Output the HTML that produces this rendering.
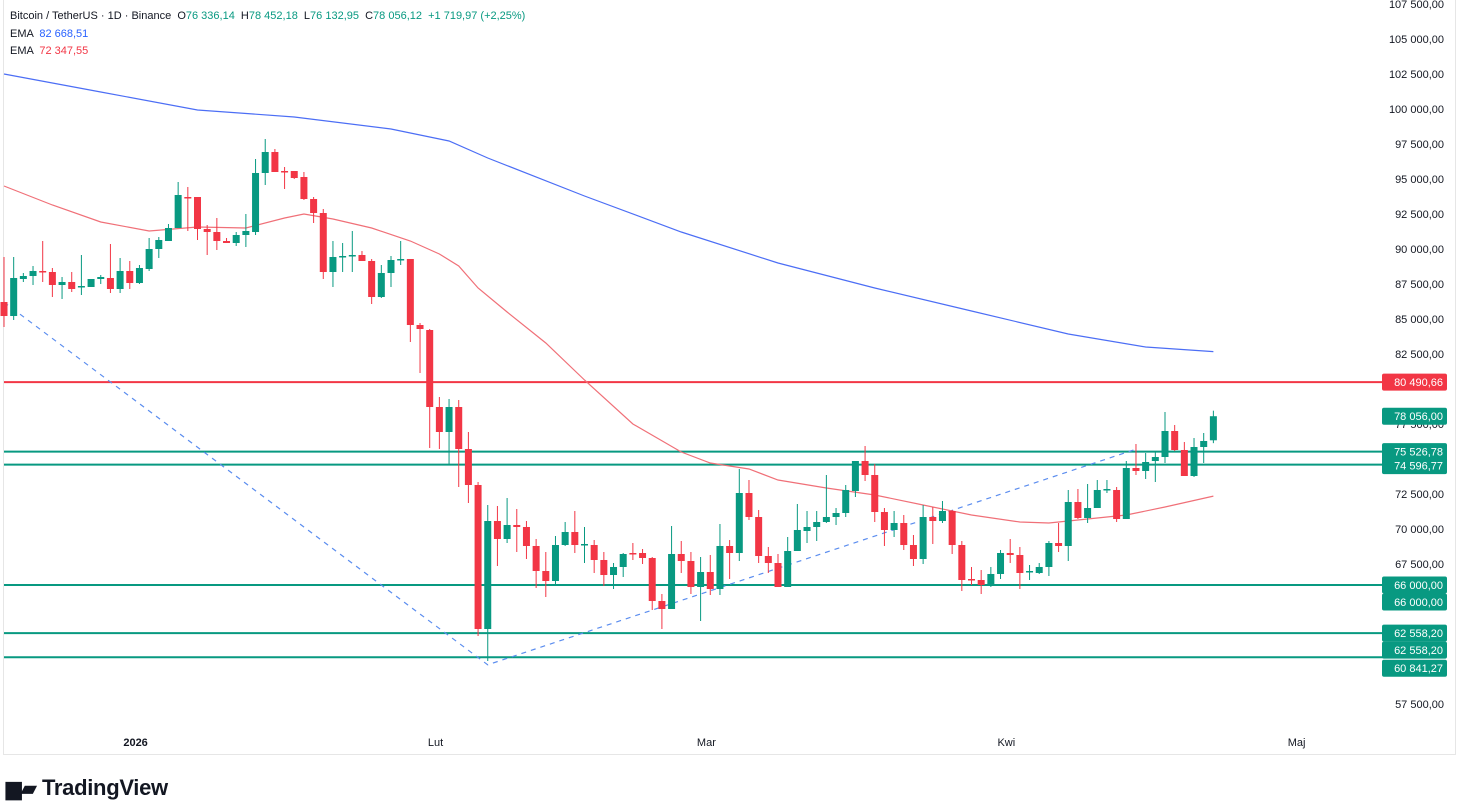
<!DOCTYPE html>
<html><head><meta charset="utf-8"><style>
body{margin:0;background:#fff;width:1461px;height:811px;overflow:hidden;font-family:"Liberation Sans",sans-serif}
#frame{position:absolute;left:3px;top:-1px;width:1453px;height:756px;border:1px solid #e6e6e6;box-sizing:border-box}
.hdr{position:absolute;left:10px;font-size:11px;color:#131722;white-space:nowrap}
.g{color:#089981}
#logo{position:absolute;left:6px;top:775px;font-size:22px;font-weight:bold;color:#131722;letter-spacing:-0.3px}
</style></head><body>
<div id="frame"></div>
<svg id="chart" width="1461" height="811" style="position:absolute;left:0;top:0"></svg>
<div class="hdr" style="top:10px">Bitcoin / TetherUS · 1D · Binance &nbsp;O<span class="g">76 336,14</span> &nbsp;H<span class="g">78 452,18</span> &nbsp;L<span class="g">76 132,95</span> &nbsp;C<span class="g">78 056,12</span> &nbsp;<span class="g">+1 719,97 (+2,25%)</span></div>
<div class="hdr" style="top:28px">EMA &nbsp;<span style="color:#2962ff">82 668,51</span></div>
<div class="hdr" style="top:45px">EMA &nbsp;<span style="color:#f23645">72 347,55</span></div>
<div id="logo"><span style="font-size:20px">▆▰</span> TradingView</div>
<script>
const opens=[86214,85214,87857,88071,88429,88357,87429,87643,87286,87286,87857,87929,87143,88429,87571,88571,90000,90571,91500,93714,93714,91429,91214,90571,90429,91000,91214,95429,96929,95571,95571,95143,93571,92571,88357,89429,89500,89571,89143,86571,88286,89214,89286,84571,84214,78714,76929,78714,75714,73143,62857,70571,69286,70286,70143,68786,67000,66286,68857,69786,68857,68857,67786,66714,67286,68286,68286,67929,64857,64286,68214,67714,65857,66929,65714,68786,68286,72571,70857,68071,67571,65857,68429,69857,70143,70500,70857,71143,72714,74857,73857,71214,69929,70429,68857,67857,70857,70571,71286,68857,66429,66357,66000,66786,68286,68143,66929,66857,67286,69000,68786,71929,70786,71500,72786,72786,70714,74357,74143,74857,75143,77000,75643,73786,75857,76336];
const highs=[89429,89429,88286,88786,90571,88643,88000,88357,89571,87857,88143,90357,89357,89143,88857,90786,90857,91786,94786,94429,93714,91714,92214,90786,91214,92500,96429,97857,97143,95857,95571,95500,93714,92857,90571,90429,91286,89857,89286,88857,89500,90571,89286,84714,84286,79429,79286,79214,76929,73357,71714,71643,72214,71429,70571,69286,68357,69500,70500,71286,70143,69214,68357,67571,68286,69000,68571,68000,65357,70214,69143,68357,68000,68143,70357,69214,74286,73500,71357,68714,68214,69429,71786,71286,71286,73857,71500,73143,74857,75929,74643,71500,71286,71000,69571,71714,71571,72000,71357,69143,67286,67071,67286,68500,69286,68714,67429,67571,69143,70429,72786,72857,73214,73500,73500,73000,74857,76071,75429,75571,78357,77429,76214,76500,76857,78452];
const lows=[84429,84929,87643,87429,87643,86571,86429,86929,86714,87286,87500,86857,86857,87143,87500,88429,89357,90571,91500,91286,90643,89571,89929,90429,90214,90143,91000,94571,95714,94286,95000,93500,91857,87857,87286,88357,88357,89143,86071,86500,87286,88857,83357,81143,75786,75714,74643,73000,71857,62357,60571,67357,69000,68357,67857,65786,65143,66000,68786,68286,67571,66857,65929,65714,66571,67786,67500,64214,62857,64286,66857,65357,63429,65286,65286,66429,67714,70643,67571,66857,65929,65857,68429,69000,69143,70429,70286,70857,72286,73429,70500,68786,69429,68500,67357,67500,68929,70429,68214,65571,66000,65357,65857,66429,67571,65714,66357,66786,66643,68357,67714,70714,70429,71500,72571,70500,70714,73857,73571,73357,74714,75571,73786,73714,74714,76132];
const closes=[85214,87929,88071,88429,88357,87429,87643,87143,87357,87857,88000,87143,88429,87571,88643,90000,90643,91500,93857,93643,91429,91214,90571,90429,91000,91286,95429,96929,95500,95500,95071,93571,92571,88357,89429,89500,89571,89143,86571,88286,89214,89286,84571,84286,78714,76929,78714,75714,73143,62857,70571,69286,70286,70143,68786,67000,66286,68857,69786,68857,68929,67786,66714,67286,68214,68214,67929,64857,64286,68214,67714,65857,66929,65714,68786,68286,72571,70857,68071,67571,65857,68429,69929,70143,70500,70857,71143,72786,74857,73857,71214,69929,70429,68857,67857,70857,70571,71286,68857,66357,66357,66000,66786,68286,68143,66857,67000,67286,69000,68786,71929,70786,71500,72786,72857,70714,74357,74143,74786,75143,77000,75643,73786,75857,76286,78056];
const emaSlowIdx=[0,10,20,30,40,46,50,60,70,80,90,100,110,118,125];
const emaSlowVal=[102500,101214,99929,99429,98571,97714,96500,93786,91214,89000,87214,85571,83929,83000,82668];
const emaFastIdx=[0,5,10,15,20,25,29,31,34,38,42,45,47,49,52,56,60,65,70,73,77,80,85,90,95,100,105,108,112,116,120,125];
const emaFastVal=[94500,93143,91929,91286,91571,91500,92214,92500,92143,91500,90571,89643,88786,87214,85500,83286,80643,77500,75500,74714,74286,73500,72929,72429,71714,71000,70500,70429,70714,71000,71571,72347];
const levels=[80490.66,75526.78,74596.77,66000,62558.20,60841.27];
const yTicks=[107500,105000,102500,100000,97500,95000,92500,90000,87500,85000,82500,77500,72500,70000,67500,57500];
const xLabels=["2026","Lut","Mar","Kwi","Maj"];
const xLabelDays=[13.6,44.6,72.6,103.6,133.6];
const trendIdx=[0,50,117];
const trendVal=[86200,60300,75700];

const NS="http://www.w3.org/2000/svg";
const svg=document.getElementById('chart');
const y=p=>4+(107500-p)*0.014;
const x=i=>4+i*9.675;
function mk(t,a,parent){const e=document.createElementNS(NS,t);for(const k in a)e.setAttribute(k,a[k]);(parent||svg).appendChild(e);return e;}
const fmt=v=>{const s=v.toFixed(2).replace('.',',');const [a,b]=s.split(',');return a.replace(/\B(?=(\d{3})+(?!\d))/g,' ')+','+b;};

// y tick labels
yTicks.forEach(v=>{const t=mk('text',{x:1444,y:y(v)+4,'text-anchor':'end','font-size':11,fill:'#131722','font-family':'Liberation Sans, sans-serif'});t.textContent=fmt(v);

});
// x labels
xLabels.forEach((l,k)=>{const t=mk('text',{x:x(xLabelDays[k]),y:746,'text-anchor':'middle','font-size':11,'font-weight':l==='2026'?'bold':'normal',fill:'#131722','font-family':'Liberation Sans, sans-serif'});t.textContent=l;

});

// levels
levels.forEach((v,k)=>{const l=mk('line',{x1:4,x2:1446,y1:y(v),y2:y(v),stroke:k===0?'#f23645':'#089981','stroke-width':2});

});

// trend dashed
const tp=trendIdx.map((i,k)=>x(i)+','+y(trendVal[k])).join(' ');
const tl=mk('polyline',{points:tp,fill:'none',stroke:'#5b8def','stroke-width':1.2,'stroke-dasharray':'5,5'});



// EMAs
const ps=emaSlowIdx.map((i,k)=>x(i)+','+y(emaSlowVal[k])).join(' ');
const es=mk('polyline',{points:ps,fill:'none',stroke:'#4c6ef5','stroke-width':1.2});


const pf=emaFastIdx.map((i,k)=>x(i)+','+y(emaFastVal[k])).join(' ');
const ef=mk('polyline',{points:pf,fill:'none',stroke:'#f07078','stroke-width':1.2});



// candles
opens.forEach((o,i)=>{const c=closes[i],up=c>=o,col=up?'#089981':'#f23645';const cx=x(i);
const g=mk('g',{});


mk('line',{x1:cx,x2:cx,y1:y(highs[i]),y2:y(lows[i]),stroke:col,'stroke-width':1},g);
const top=y(Math.max(o,c)),h=Math.max(1.5,Math.abs(y(o)-y(c)));
mk('rect',{x:cx-3.5,y:top,width:7,height:h,fill:col},g);});

// price labels
function lab(v,col,yy,name){const g=mk('g',{});


mk('rect',{x:1382,y:yy-8.5,width:65,height:17,rx:2,fill:col},g);
const t=mk('text',{x:1443,y:yy+4,'text-anchor':'end','font-size':11,fill:'#fff','font-family':'Liberation Sans, sans-serif'},g);t.textContent=fmt(v);}
lab(levels[0],'#f23645',y(levels[0]),'resistance-price-label');
lab(closes[closes.length-1],'#089981',y(closes[closes.length-1]),'last-price-label');
lab(levels[1],'#089981',y(levels[1]),'level-price-label');
lab(levels[2],'#089981',y(levels[2])+1,'level-price-label');
lab(levels[3],'#089981',y(levels[3]),'level-price-label');
lab(levels[3],'#089981',y(levels[3])+17,'level-price-label');
lab(levels[4],'#089981',y(levels[4]),'level-price-label');
lab(levels[4],'#089981',y(levels[4])+17,'level-price-label');
lab(levels[5],'#089981',y(levels[5])+11,'level-price-label');
</script>
</body></html>
